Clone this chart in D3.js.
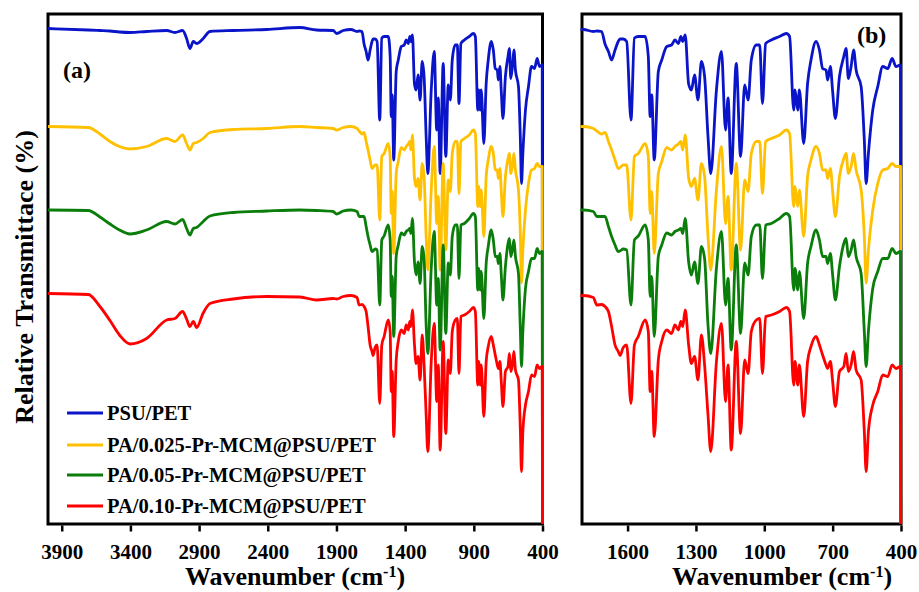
<!DOCTYPE html>
<html>
<head>
<meta charset="utf-8">
<script src="https://cdn.jsdelivr.net/npm/d3@7"></script>
<style>
  body { margin: 0; background: #fff; }
  svg { display: block; }
  text { font-family: "Liberation Serif", "Times New Roman", serif; font-weight: bold; fill: #000; }
</style>
</head>
<body>
<svg id="chart" width="919" height="592"></svg>
<script>
// FTIR spectra, wavenumber grid in cm-1 (descending)
const wavenumbers = [4000,3707,3622,3549,3480,3403,3282,3136,3076,3020,2991,2967,2942,2918,2870,2821,2651,2408,2166,2044,1924,1899,1851,1794,1750,1735,1714,1699,1684,1670,1655,1641,1633,1619,1604,1585,1570,1553,1523,1509,1501,1494,1483,1465,1450,1428,1407,1392,1377,1366,1358,1347,1332,1320,1306,1291,1276,1262,1247,1235,1210,1188,1170,1159,1145,1123,1104,1086,1071,1057,1035,1020,1008,994,969,933,903,889,871,865,853,846,827,810,795,773,758,744,729,722,710,700,688,670,651,641,631,619,608,597,575,561,553,543,524,502,480,458,439,422,402,400];

// Relative transmittance of each membrane (stacked, arbitrary units)
const psuPet = [99.1,98.8,98.7,98.6,98.4,98.3,98.5,98.7,98.3,98.7,97.1,95.1,96.5,96.1,97.1,98.5,98.7,98.9,99.3,98.8,98.7,98.1,98.7,98.9,98.5,98.6,98.5,96.0,94.5,92.8,94.8,96.5,97.0,97.0,96.5,80.8,97.2,97.5,97.5,93.5,81.5,85.8,72.8,90.5,92.8,95.5,95.8,96.8,96.1,97.5,96.5,97.8,88.0,86.8,89.8,84.8,92.5,89.5,77.5,70.1,86.8,94.5,78.8,85.2,70.1,92.1,73.5,87.8,84.8,92.8,95.8,95.8,84.1,96.1,96.8,97.5,98.1,97.5,82.8,86.8,82.8,86.8,76.1,88.1,92.8,96.5,94.8,91.1,90.8,88.8,91.5,86.5,81.1,89.5,93.5,95.1,89.1,91.5,94.8,90.8,87.5,76.8,68.1,74.1,82.8,87.5,91.5,91.1,93.1,91.5,91.8,0];
const pa025 = [79.5,79.3,78.0,76.5,75.5,75.0,75.5,77.1,76.5,77.8,76.1,74.8,76.1,76.3,77.1,78.3,78.9,79.1,79.5,79.3,79.1,78.8,79.3,79.5,79.1,78.6,78.0,78.3,76.5,74.8,72.8,71.1,71.3,71.8,71.8,60.8,73.5,74.1,76.1,73.5,62.1,66.5,54.1,70.1,72.5,75.3,74.8,75.5,76.0,76.5,74.8,77.8,69.2,67.5,69.1,64.8,72.1,69.5,57.5,50.8,66.8,75.5,60.1,65.5,50.8,72.1,54.8,68.8,66.5,74.1,76.5,76.5,66.1,76.5,77.1,77.8,78.8,78.1,63.5,67.5,63.5,66.8,57.5,69.5,72.8,75.5,74.1,70.8,70.8,69.1,71.1,66.5,61.5,69.5,73.1,74.1,70.1,71.5,74.1,70.8,66.8,57.5,48.2,54.8,62.8,68.1,70.8,71.1,72.1,71.5,71.5,0];
const pa05 = [62.8,62.7,61.4,60.0,58.8,58.0,58.8,60.5,60.0,60.9,59.1,57.8,59.1,59.3,60.5,61.6,62.3,62.6,62.8,62.7,62.5,62.0,62.6,62.8,62.5,61.5,61.5,61.5,59.5,57.5,55.8,54.5,54.6,55.0,54.8,43.8,56.8,57.6,59.8,56.8,45.5,49.5,37.5,53.5,55.8,58.2,57.8,58.5,58.8,59.1,58.1,61.1,52.4,49.8,52.4,48.1,55.5,53.1,39.8,34.1,51.2,58.5,43.8,49.1,34.8,55.8,38.1,52.2,49.8,57.5,59.8,59.8,49.1,59.8,60.1,61.1,62.1,61.5,46.8,51.1,46.8,50.5,41.1,52.1,55.5,58.8,56.8,53.5,53.5,52.1,54.1,49.8,44.8,51.5,56.1,57.1,53.5,54.8,56.8,53.5,50.1,38.5,31.5,38.5,47.1,50.5,53.1,53.1,55.1,54.1,54.5,0];
const pa10 = [46.1,45.9,43.5,40.7,37.8,36.0,37.1,40.8,41.1,42.5,41.0,39.5,40.5,39.3,42.2,44.1,45.0,45.5,45.4,44.8,45.1,45.0,45.5,45.7,45.3,43.8,43.9,43.5,42.5,39.5,35.8,34.5,33.7,35.3,35.8,24.1,35.8,37.5,40.8,38.5,26.5,30.5,17.5,32.8,36.5,38.8,38.1,39.8,38.8,40.5,39.5,42.8,35.8,32.1,33.5,28.8,37.8,31.8,21.8,14.5,32.5,40.1,24.5,31.8,14.8,36.5,18.1,32.8,30.1,38.5,40.8,41.1,30.1,41.5,41.8,42.5,43.3,42.5,27.8,32.5,27.8,31.8,21.5,32.5,35.5,37.5,35.8,33.8,31.8,31.1,32.5,28.5,23.5,30.5,31.5,34.1,30.5,31.8,34.5,30.8,28.8,18.5,10.5,18.5,23.8,26.5,29.8,29.5,31.8,31.1,31.5,0];

const seriesNames = ["PSU/PET", "PA/0.025-Pr-MCM@PSU/PET", "PA/0.05-Pr-MCM@PSU/PET", "PA/0.10-Pr-MCM@PSU/PET"];
const seriesColors = ["#0a14c8", "#ffc000", "#0a7d0a", "#ff0000"];
const seriesValues = [psuPet, pa025, pa05, pa10];

const ticksA = [3900, 3400, 2900, 2400, 1900, 1400, 900, 400];
const ticksB = [1600, 1300, 1000, 700, 400];

const svg = d3.select("#chart");
svg.append("rect").attr("width", 919).attr("height", 592).attr("fill", "#fff");

const plotTop = 14, plotBottom = 524;
const y = d3.scaleLinear().domain([0, 102]).range([plotBottom, plotTop]);

const series = seriesNames.map((name, i) => ({
  name, color: seriesColors[i],
  points: wavenumbers.map((w, j) => ({ w, v: seriesValues[i][j] }))
}));

const panels = [
  { key: "a", domain: [4000, 400], range: [48, 542.5], ticks: ticksA, label: "(a)", labelX: 63, labelY: 78, titleX: 295 },
  { key: "b", domain: [1800, 400], range: [582, 901], ticks: ticksB, label: "(b)", labelX: 857, labelY: 43, titleX: 782 }
];

panels.forEach(p => {
  const x = d3.scaleLinear().domain(p.domain).range(p.range);
  const g = svg.append("g");

  g.append("clipPath").attr("id", "clip-" + p.key)
    .append("rect")
    .attr("x", p.range[0] - 1.5).attr("y", plotTop)
    .attr("width", p.range[1] - p.range[0] + 3).attr("height", plotBottom - plotTop);

  // frame
  g.append("rect")
    .attr("x", p.range[0]).attr("y", plotTop)
    .attr("width", p.range[1] - p.range[0]).attr("height", plotBottom - plotTop)
    .attr("fill", "none").attr("stroke", "#000").attr("stroke-width", 3);

  // spectra (monotone interpolation keeps band minima at the read values)
  const line = d3.line().curve(d3.curveMonotoneX).x(d => x(d.w)).y(d => y(d.v));
  g.append("g").attr("clip-path", `url(#clip-${p.key})`)
    .selectAll("path").data(series).join("path")
    .attr("d", d => line(d.points.filter(pt => pt.w <= p.domain[0] + 60)))
    .attr("fill", "none")
    .attr("stroke", d => d.color)
    .attr("stroke-width", 2.8)
    .attr("stroke-linejoin", "round");

  // x axis
  const axis = g.append("g")
    .attr("transform", `translate(0,${plotBottom + 1.5})`)
    .call(d3.axisBottom(x).tickValues(p.ticks).tickFormat(d3.format("d"))
      .tickSize(6).tickPadding(13).tickSizeOuter(0));
  axis.select(".domain").remove();
  axis.selectAll(".tick line").attr("stroke", "#000").attr("stroke-width", 2.5);
  axis.selectAll(".tick text")
    .attr("font-family", '"Liberation Serif", "Times New Roman", serif')
    .attr("font-weight", "bold").attr("font-size", 21).attr("fill", "#000");

  // x title
  const t = g.append("text").attr("x", p.titleX).attr("y", 585)
    .attr("text-anchor", "middle").attr("font-size", 26);
  t.append("tspan").text("Wavenumber (cm");
  t.append("tspan").attr("baseline-shift", "super").attr("font-size", 16).text("-1");
  t.append("tspan").text(")");

  // panel label
  g.append("text").attr("x", p.labelX).attr("y", p.labelY)
    .attr("font-size", 24).text(p.label);
});

// y title
svg.append("text")
  .attr("transform", "translate(33,277) rotate(-90)")
  .attr("text-anchor", "middle").attr("font-size", 26)
  .text("Relative Transmittace (%)");

// legend
const legendRows = [413, 445, 475, 506];
const legend = svg.append("g").selectAll("g").data(series).join("g")
  .attr("transform", (d, i) => `translate(67,${legendRows[i]})`);
legend.append("line").attr("x1", 0).attr("x2", 36)
  .attr("stroke", d => d.color).attr("stroke-width", 2.8);
legend.append("text").attr("x", 40).attr("y", 7)
  .attr("font-size", 20.5).text(d => d.name);
</script>
</body>
</html>
